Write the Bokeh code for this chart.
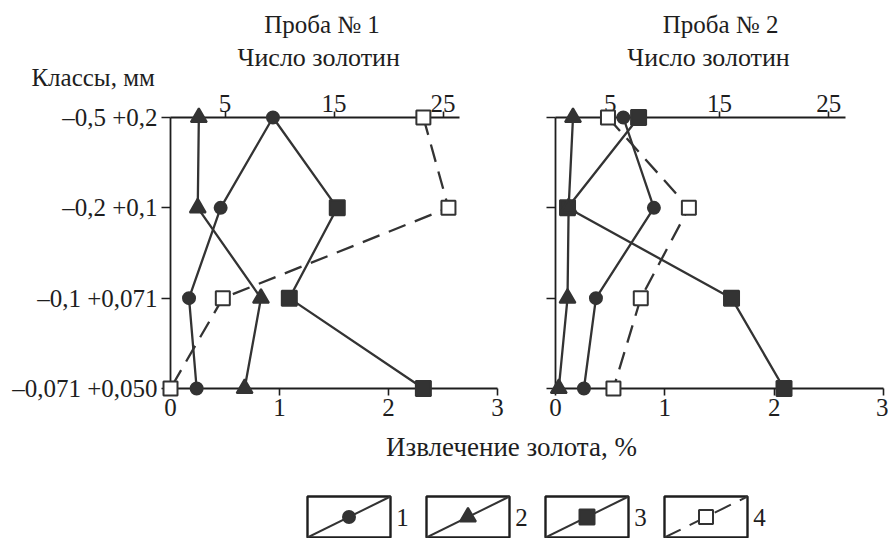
from bokeh.plotting import figure
from bokeh.models import Range1d, LinearAxis, FixedTicker, ColumnDataSource
from bokeh.layouts import column, row
from bokeh.embed import file_html
from bokeh.resources import INLINE
from bokeh.core.properties import value

# ---- data ----
classes = ["–0,5 +0,2", "–0,2 +0,1", "–0,1 +0,071", "–0,071 +0,050"]
class_pos = [3, 2, 1, 0]

count_ticks = [5, 15, 25]          # Число золотин
recovery_ticks = [0, 1, 2, 3]      # Извлечение золота, %

p1_s1 = [0.94, 0.46, 0.17, 0.24]
p1_s2 = [0.26, 0.25, 0.83, 0.68]
p1_s3 = [0.94, 1.53, 1.09, 2.32]
p1_s4 = [2.32, 2.55, 0.48, 0.00]
p1_s3_marker_shown = [0, 1, 1, 1]   # first point of series 3 lies under the circle of series 1

p2_s1 = [0.62, 0.90, 0.37, 0.26]
p2_s2 = [0.16, 0.12, 0.11, 0.03]
p2_s3 = [0.76, 0.11, 1.61, 2.09]
p2_s4 = [0.48, 1.22, 0.78, 0.53]

series_labels = ["1", "2", "3", "4"]
panel_titles = ["Проба № 1", "Проба № 2"]
top_axis_title = "Число золотин"
bottom_axis_title = "Извлечение золота, %"
left_axis_title = "Классы, мм"

# ---- styles ----
FONT = "Liberation Serif"
FS = "25px"
INK = "#333333"
AX = "#1e1e1e"
markers = ["circle", "triangle", "square", "square"]
sizes = [12, 16, 15, 14]
fills = [INK, INK, INK, "white"]
dashes = ["solid", "solid", "solid", "18 10"]


def style_axis(ax):
    ax.axis_line_width = 1.8
    ax.axis_line_color = AX
    ax.major_tick_line_width = 1.6
    ax.major_tick_line_color = AX
    ax.major_tick_in = 0
    ax.major_tick_out = 7
    ax.minor_tick_line_color = None
    ax.major_label_text_font = FONT
    ax.major_label_text_font_size = FS
    ax.major_label_text_color = AX
    ax.major_label_standoff = 3


def add_text(p, x, y, txt, fs=FS):
    r = p.text(x=[x], y=[y], text=[txt], text_font=value(FONT), text_font_size=value(fs),
               text_align="center", text_baseline="middle", text_color=AX)
    r.level = "overlay"
    return r


def make_panel(title, data, shown, width, left, right, show_ylabels, title_x, sub_x):
    p = figure(width=width, height=430, x_range=Range1d(0, 3), y_range=Range1d(0, 3),
               output_backend="svg", toolbar_location=None,
               min_border_left=left, min_border_right=right,
               min_border_top=117, min_border_bottom=42,
               x_axis_location=None, y_axis_location=None)
    p.outline_line_color = None
    p.xgrid.visible = False
    p.ygrid.visible = False

    bottom = LinearAxis(ticker=FixedTicker(ticks=recovery_ticks), bounds=(0, 3))
    style_axis(bottom)
    p.add_layout(bottom, "below")

    p.extra_x_ranges = {"count": Range1d(0, 30)}
    top = LinearAxis(x_range_name="count", ticker=FixedTicker(ticks=count_ticks), bounds=(0, 26.5))
    style_axis(top)
    top.major_tick_out = 6
    top.major_label_standoff = 0
    p.add_layout(top, "above")

    leftax = LinearAxis(ticker=FixedTicker(ticks=class_pos))
    style_axis(leftax)
    leftax.major_tick_out = 9
    leftax.major_label_standoff = 4
    if show_ylabels:
        leftax.major_label_overrides = {pos: lab for pos, lab in zip(class_pos, classes)}
    else:
        leftax.major_label_overrides = {pos: "" for pos in class_pos}
    p.add_layout(leftax, "left")

    for vals, dash in zip(data, dashes):
        ln = p.line(vals, class_pos, line_width=2.3, line_color=INK, line_dash=dash)
        ln.level = "overlay"
    # markers drawn after all lines, larger ones first
    for idx in [3, 2, 1, 0]:
        src = ColumnDataSource(dict(x=data[idx], y=class_pos, a=shown[idx]))
        sc = p.scatter("x", "y", source=src, marker=markers[idx], size=sizes[idx],
                       fill_color=fills[idx], line_color=INK, line_width=2,
                       fill_alpha="a", line_alpha="a")
        sc.level = "overlay"

    add_text(p, title_x, 4.03, title)
    add_text(p, sub_x, 3.66, top_axis_title, "26px")
    return p


ones = [1, 1, 1, 1]
p1 = make_panel(panel_titles[0], [p1_s1, p1_s2, p1_s3, p1_s4],
                [ones, ones, p1_s3_marker_shown, ones], 530, 170, 33, True, 1.39, 1.36)
add_text(p1, -0.71, 3.44, left_axis_title)
p2 = make_panel(panel_titles[1], [p2_s1, p2_s2, p2_s3, p2_s4],
                [ones, ones, ones, ones], 358, 25, 5, False, 1.51, 1.40)

# ---- bottom: axis title and legend ----
p3 = figure(width=888, height=108, x_range=Range1d(0, 888), y_range=Range1d(0, 108),
            output_backend="svg", toolbar_location=None, min_border=0,
            x_axis_location=None, y_axis_location=None)
p3.outline_line_color = None
p3.xgrid.visible = False
p3.ygrid.visible = False

add_text(p3, 511, 92, bottom_axis_title, "27px")

box_w, box_h = 83, 41
x0s = [307 + i * 119 for i in range(len(series_labels))]
y_top = 42
for i, lab in enumerate(series_labels):
    l, r = x0s[i], x0s[i] + box_w
    b, t = y_top - box_h, y_top
    p3.quad(left=[l], right=[r], bottom=[b], top=[t], fill_color=None, line_color=AX, line_width=2.4)
    p3.segment(x0=[l], y0=[b], x1=[r], y1=[t], line_color=INK, line_width=2, line_dash=dashes[i])
    p3.scatter(x=[(l + r) / 2], y=[(b + t) / 2], marker=markers[i], size=sizes[i],
               fill_color=fills[i], line_color=INK, line_width=2)
    add_text(p3, r + 12, (b + t) / 2, lab)

layout = column(row(p1, p2), p3)
open("out.html", "w").write(file_html(layout, INLINE))
